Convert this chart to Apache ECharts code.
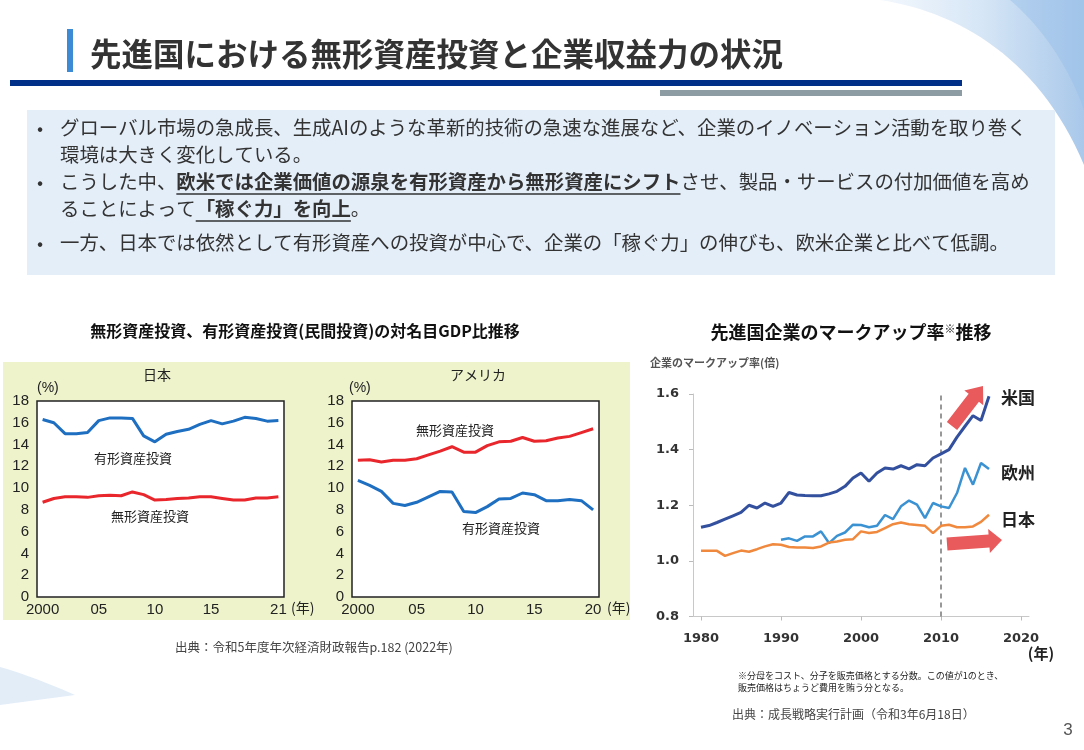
<!DOCTYPE html>
<html><head><meta charset="utf-8">
<script src="https://cdn.jsdelivr.net/npm/echarts@6/dist/echarts.min.js"></script>
<style>html,body{margin:0;padding:0;background:#fff}#c{width:1084px;height:750px}</style>
</head><body><div id="c"></div>
<script>
// ---------- DATA ----------
const jpYears = ['2000','2001','2002','2003','2004','2005','2006','2007','2008','2009','2010','2011','2012','2013','2014','2015','2016','2017','2018','2019','2020','2021'];
const jpTickYears = ['2000','2005','2010','2015','2021'];
const jpTickLabels = ['2000','05','10','15','21'];
const jpTangible = [16.3,16.0,15.0,15.0,15.1,16.2,16.45,16.45,16.4,14.8,14.25,14.95,15.2,15.4,15.85,16.2,15.9,16.15,16.5,16.4,16.15,16.2];
const jpIntangible = [8.7,9.05,9.2,9.2,9.15,9.3,9.35,9.3,9.65,9.4,8.9,8.95,9.05,9.1,9.2,9.2,9.05,8.9,8.9,9.1,9.1,9.2];

const usYears = ['2000','2001','2002','2003','2004','2005','2006','2007','2008','2009','2010','2011','2012','2013','2014','2015','2016','2017','2018','2019','2020'];
const usTickYears = ['2000','2005','2010','2015','2020'];
const usTickLabels = ['2000','05','10','15','20'];
const usIntangible = [12.55,12.6,12.4,12.55,12.55,12.7,13.05,13.4,13.8,13.3,13.3,13.9,14.25,14.3,14.65,14.3,14.35,14.6,14.75,15.1,15.45];
const usTangible = [10.7,10.25,9.7,8.6,8.4,8.7,9.2,9.7,9.65,7.85,7.75,8.3,9.0,9.05,9.55,9.4,8.85,8.85,8.95,8.85,8.0];

const yPctTicks = [0,2,4,6,8,10,12,14,16,18];

const markYears = [1980,1981,1982,1983,1984,1985,1986,1987,1988,1989,1990,1991,1992,1993,1994,1995,1996,1997,1998,1999,2000,2001,2002,2003,2004,2005,2006,2007,2008,2009,2010,2011,2012,2013,2014,2015,2016];
const usMarkup = [1.121,1.127,1.138,1.150,1.162,1.174,1.200,1.190,1.208,1.196,
                  1.208,1.246,1.237,1.235,1.234,1.234,1.241,1.250,1.268,1.298,
                  1.316,1.286,1.316,1.334,1.330,1.342,1.331,1.346,1.342,1.370,
                  1.385,1.400,1.445,1.484,1.522,1.505,1.592];
const euMarkup = [null,null,null,null,null,null,null,null,null,null,
                  1.076,1.081,1.072,1.088,1.088,1.106,1.064,1.090,1.102,1.130,
                  1.129,1.121,1.126,1.165,1.150,1.196,1.217,1.202,1.154,1.208,
                  1.196,1.190,1.244,1.334,1.274,1.352,1.330];
const jpMarkup = [1.036,1.036,1.036,1.018,1.028,1.037,1.033,1.042,1.052,1.060,
                  1.058,1.050,1.048,1.048,1.046,1.052,1.066,1.070,1.076,1.078,
                  1.106,1.100,1.104,1.118,1.132,1.138,1.132,1.129,1.126,1.100,
                  1.126,1.130,1.121,1.121,1.124,1.140,1.166];
const markXTicks = [1980,1990,2000,2010,2020];
const markDivider = 2010;

// ---------- HELPERS ----------
const JP = '"Noto Sans CJK JP"';
const NUM = '"Liberation Sans", "Noto Sans CJK JP"';
const mctx = document.createElement('canvas').getContext('2d');
function tw(s, font){ mctx.font = font; return mctx.measureText(s).width; }
function txt(x, y, text, font, fill, align){
  return {type:'text', x:x, y:y, z:10,
    style:{text:text, font:font, fill:fill||'#333', align:align||'left', verticalAlign:'middle'}};
}
function arrow(x0,y0,x1,y1,sh,hh,hl){
  const dx=x1-x0, dy=y1-y0, L=Math.hypot(dx,dy), ux=dx/L, uy=dy/L, nx=-uy, ny=ux;
  const bx=x1-ux*hl, by=y1-uy*hl;
  return [[x0+nx*sh,y0+ny*sh],[bx+nx*sh,by+ny*sh],[bx+nx*hh,by+ny*hh],[x1,y1],
          [bx-nx*hh,by-ny*hh],[bx-nx*sh,by-ny*sh],[x0-nx*sh,y0-ny*sh]];
}
function bez(p0,p1,p2,p3,n){
  const pts=[];
  for(let i=0;i<=n;i++){const t=i/n,a=(1-t)**3,b=3*(1-t)**2*t,c=3*(1-t)*t*t,d=t**3;
    pts.push([a*p0[0]+b*p1[0]+c*p2[0]+d*p3[0], a*p0[1]+b*p1[1]+c*p2[1]+d*p3[1]]);}
  return pts;
}
function grad(stops){ return {type:'linear', x:0, y:0, x2:1, y2:0, colorStops:stops}; }

// ---------- TEXT LAYOUT ----------
const BODY = '19.4px ' + JP, BODYB = 'bold 19.4px ' + JP;
const l3a = 'こうした中、', l3b = '欧米では企業価値の源泉を有形資産から無形資産にシフト', l3c = 'させ、製品・サービスの付加価値を高め';
const l4a = 'ることによって', l4b = '「稼ぐ力」を向上', l4c = '。';
const tx = 60;
const u3x0 = tx + tw(l3a, BODY), u3x1 = u3x0 + tw(l3b, BODYB);
const u4x0 = tx + tw(l4a, BODY), u4x1 = u4x0 + tw(l4b, BODYB);

const swoosh1 = bez([880,0],[960,12],[1040,60],[1084,165],30).concat([[1084,0]]);
const swoosh2 = bez([1010,0],[1045,30],[1070,70],[1084,110],20).concat([[1084,0]]);
const swoosh3 = bez([0,667],[25,674],[50,684],[75,695],12).concat([[0,705]]);

const graphics = [
  // decorations
  {type:'polygon', z:0, shape:{points:swoosh1},
   style:{fill:grad([{offset:0,color:'#f4f8fd'},{offset:0.5,color:'#d6e6f6'},{offset:1,color:'#a9c8ea'}])}},
  {type:'polygon', z:0, shape:{points:swoosh2}, style:{fill:'rgba(150,190,232,0.45)'}},
  {type:'polygon', z:0, shape:{points:swoosh3}, style:{fill:'#e3edf8'}},
  // title
  {type:'rect', z:1, shape:{x:67,y:29,width:6,height:43}, style:{fill:'#3c8bd4'}},
  txt(90, 54, '先進国における無形資産投資と企業収益力の状況', 'bold 31.5px ' + JP, '#333'),
  {type:'rect', z:1, shape:{x:10,y:80,width:952,height:6}, style:{fill:'#003087'}},
  {type:'rect', z:1, shape:{x:660,y:90,width:302,height:6}, style:{fill:'#8d9ba3'}},
  // text box
  {type:'rect', z:1, shape:{x:27,y:110,width:1028,height:165}, style:{fill:'#e4eef9'}},
  txt(37, 128, '•', '18px ' + JP, '#333'),
  txt(37, 182, '•', '18px ' + JP, '#333'),
  txt(37, 243, '•', '18px ' + JP, '#333'),
  txt(tx, 128, 'グローバル市場の急成長、生成AIのような革新的技術の急速な進展など、企業のイノベーション活動を取り巻く', BODY, '#333'),
  txt(tx, 155, '環境は大きく変化している。', BODY, '#333'),
  {type:'text', x:tx, y:182, z:10, style:{text:'{n|'+l3a+'}{b|'+l3b+'}{n|'+l3c+'}', verticalAlign:'middle',
    rich:{n:{font:BODY, fill:'#333'}, b:{font:BODYB, fill:'#333'}}}},
  {type:'text', x:tx, y:209, z:10, style:{text:'{n|'+l4a+'}{b|'+l4b+'}{n|'+l4c+'}', verticalAlign:'middle',
    rich:{n:{font:BODY, fill:'#333'}, b:{font:BODYB, fill:'#333'}}}},
  {type:'line', z:10, shape:{x1:u3x0,y1:194,x2:u3x1,y2:194}, style:{stroke:'#333',lineWidth:1.5}},
  {type:'line', z:10, shape:{x1:u4x0,y1:221,x2:u4x1,y2:221}, style:{stroke:'#333',lineWidth:1.5}},
  txt(tx, 243, '一方、日本では依然として有形資産への投資が中心で、企業の「稼ぐ力」の伸びも、欧米企業と比べて低調。', BODY, '#333'),
  // left section
  txt(305, 331, '無形資産投資、有形資産投資(民間投資)の対名目GDP比推移', 'bold 16px ' + JP, '#111', 'center'),
  {type:'rect', z:0, shape:{x:3,y:362,width:627,height:258}, style:{fill:'#eef3cc'}},
  txt(157, 375, '日本', '14px ' + JP, '#222', 'center'),
  txt(478, 375, 'アメリカ', '14px ' + JP, '#222', 'center'),
  txt(37, 388, '(%)', '14px ' + NUM, '#222'),
  txt(349, 388, '(%)', '14px ' + NUM, '#222'),
  txt(291, 608, '(年)', '14px ' + JP, '#222'),
  txt(607, 608, '(年)', '14px ' + JP, '#222'),
  txt(94, 458, '有形資産投資', '13px ' + JP, '#222'),
  txt(111, 516, '無形資産投資', '13px ' + JP, '#222'),
  txt(416, 430, '無形資産投資', '13px ' + JP, '#222'),
  txt(462, 528, '有形資産投資', '13px ' + JP, '#222'),
  txt(175, 647, '出典：令和5年度年次経済財政報告p.182 (2022年)', '12.5px ' + JP, '#444'),
  // right section
  {type:'text', x:851, y:332, z:10, style:{text:'{a|先進国企業のマークアップ率}{s|※}{a|推移}', align:'center', verticalAlign:'middle',
    rich:{a:{font:'bold 18px '+JP, fill:'#111'}, s:{font:'bold 11px '+JP, fill:'#111', verticalAlign:'top'}}}},
  txt(650, 363, '企業のマークアップ率(倍)', 'bold 11px ' + JP, '#555'),
  txt(1018, 398, '米国', 'bold 17px ' + JP, '#222', 'center'),
  txt(1018, 473, '欧州', 'bold 17px ' + JP, '#222', 'center'),
  txt(1018, 520, '日本', 'bold 17px ' + JP, '#222', 'center'),
  txt(1041, 653, '(年)', 'bold 15px ' + JP, '#222', 'center'),
  {type:'polygon', z:10, shape:{points:arrow(952,426,983,386,6.5,12,15)}, style:{fill:'#e85a5c'}},
  {type:'polygon', z:10, shape:{points:arrow(947,544,1002,540,6.5,12,13)}, style:{fill:'#e85a5c'}},
  txt(738, 676, '※分母をコスト、分子を販売価格とする分数。この値が1のとき、', '9px ' + JP, '#222'),
  txt(738, 688, '販売価格はちょうど費用を賄う分となる。', '9px ' + JP, '#222'),
  txt(732, 714, '出典：成長戦略実行計画（令和3年6月18日）', '12px ' + JP, '#444'),
  txt(1068, 730, '3', '17px ' + NUM, '#555', 'center')
];

// ---------- CHART ----------
function catX(gi, data, tickYears, tickLabels){
  return {type:'category', gridIndex:gi, data:data, boundaryGap:true, z:4,
    axisLine:{show:false}, axisTick:{show:false},
    axisLabel:{interval:(i,v)=>tickYears.indexOf(v)>=0, formatter:v=>tickLabels[tickYears.indexOf(v)],
      fontSize:15, fontFamily:NUM, color:'#222', margin:5}};
}
function pctY(gi){
  return {type:'value', gridIndex:gi, min:yPctTicks[0], max:yPctTicks[yPctTicks.length-1], interval:2, z:4,
    axisLine:{show:false}, axisTick:{show:false}, splitLine:{show:false},
    axisLabel:{fontSize:15, fontFamily:NUM, color:'#222', margin:8}};
}
const lineBase = {type:'line', symbol:'none', smooth:false};
const chart = echarts.init(document.getElementById('c'));
chart.setOption({
  animation:false,
  backgroundColor:'#fff',
  graphic:graphics,
  grid:[
    {left:37, top:401, width:247, height:196, show:true, backgroundColor:'#fff', borderColor:'#222', borderWidth:1.5, z:2},
    {left:352, top:401, width:247, height:196, show:true, backgroundColor:'#fff', borderColor:'#222', borderWidth:1.5, z:2},
    {left:693, top:394, width:336, height:222.5}
  ],
  xAxis:[
    catX(0, jpYears, jpTickYears, jpTickLabels),
    catX(1, usYears, usTickYears, usTickLabels),
    {type:'value', gridIndex:2, min:1979, max:2021, z:4,
      axisLine:{show:true, lineStyle:{color:'#c8c8c8', width:1}},
      axisTick:{show:true, customValues:markXTicks, length:4, lineStyle:{color:'#bbb'}},
      axisLabel:{customValues:markXTicks, formatter:v=>String(v), fontSize:13, fontWeight:'bold', fontFamily:'"DejaVu Sans"', color:'#333', margin:16},
      splitLine:{show:false}}
  ],
  yAxis:[
    pctY(0), pctY(1),
    {type:'value', gridIndex:2, min:0.8, max:1.6, interval:0.2, z:4,
      axisLine:{show:true, lineStyle:{color:'#c8c8c8', width:1}},
      axisTick:{show:true, length:4, lineStyle:{color:'#bbb'}},
      axisLabel:{formatter:v=>v.toFixed(1), fontSize:13, fontWeight:'bold', fontFamily:'"DejaVu Sans"', color:'#333', margin:14},
      splitLine:{show:false}}
  ],
  series:[
    Object.assign({}, lineBase, {name:'日本 有形資産投資', xAxisIndex:0, yAxisIndex:0, data:jpTangible, lineStyle:{color:'#1e6fc1', width:3}, z:5}),
    Object.assign({}, lineBase, {name:'日本 無形資産投資', xAxisIndex:0, yAxisIndex:0, data:jpIntangible, lineStyle:{color:'#e8262b', width:3}, z:5}),
    Object.assign({}, lineBase, {name:'米国 無形資産投資', xAxisIndex:1, yAxisIndex:1, data:usIntangible, lineStyle:{color:'#e8262b', width:3}, z:5}),
    Object.assign({}, lineBase, {name:'米国 有形資産投資', xAxisIndex:1, yAxisIndex:1, data:usTangible, lineStyle:{color:'#1e6fc1', width:3}, z:5}),
    Object.assign({}, lineBase, {name:'米国', xAxisIndex:2, yAxisIndex:2, data:markYears.map((y,i)=>[y,usMarkup[i]]), lineStyle:{color:'#33509f', width:3}, z:5,
      markLine:{silent:true, symbol:'none', label:{show:false}, lineStyle:{color:'#777', type:[5,4], width:1.5}, data:[{xAxis:markDivider}]}}),
    Object.assign({}, lineBase, {name:'欧州', xAxisIndex:2, yAxisIndex:2, data:markYears.map((y,i)=>[y,euMarkup[i]]), lineStyle:{color:'#3b92d3', width:2.5}, z:5}),
    Object.assign({}, lineBase, {name:'日本', xAxisIndex:2, yAxisIndex:2, data:markYears.map((y,i)=>[y,jpMarkup[i]]), lineStyle:{color:'#f0893d', width:2.5}, z:5})
  ]
});
</script></body></html>
